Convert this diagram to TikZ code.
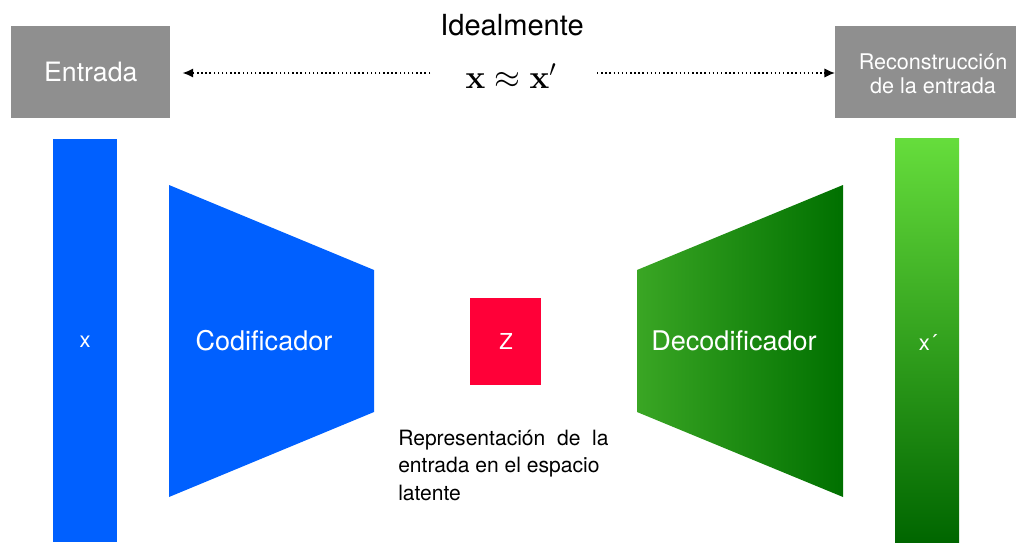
\documentclass[tikz,border=0pt]{standalone}
\usepackage[no-math]{fontspec}
\setmainfont{TeX Gyre Heros}
\usetikzlibrary{arrows.meta}
\definecolor{boxgray}{HTML}{8F8F8F}
\definecolor{encblue}{HTML}{0060FF}
\definecolor{zred}{HTML}{FF0038}
\definecolor{decL}{HTML}{3AA624}
\definecolor{decR}{HTML}{007000}
\definecolor{barTop}{HTML}{66DD3C}
\definecolor{barBot}{HTML}{006600}
\tikzset{
  graybox/.style={fill=boxgray, text=white, inner sep=0pt, anchor=north west},
  lbl/.style={text=white, font=\fontsize{20.3}{24}\selectfont},
  small/.style={text=white, font=\fontsize{16.5}{19}\selectfont},
  dotarrow/.style={dotted, line width=1.1pt, -{Latex[length=8pt,width=7pt]}},
}
\begin{document}
\begin{tikzpicture}[x=0.75pt,y=-0.75pt]
\useasboundingbox (0,0) rectangle (1016,542);
% top boxes
\node[graybox, minimum width=159*0.75pt, minimum height=92*0.75pt, font=\fontsize{20}{24}\selectfont] (in) at (11,26) {Entrada};
\node[graybox, minimum width=181*0.75pt, minimum height=92*0.75pt] (recbox) at (835,26) {};
\node[text=white, align=center, inner sep=0pt, font=\fontsize{16.2}{18}\selectfont] (rec) at (933,74) {Reconstrucción\\de la entrada};
\node[font=\fontsize{21.8}{26}\selectfont] (ideal) at (512,25) {Idealmente};
\node[font=\fontsize{26}{30}\selectfont] (form) at (511,76) {$\mathbf{x}\approx\mathbf{x}'$};
\coordinate (la) at (430,73);
\coordinate (ra) at (597,73);
\draw[dotarrow, shorten >=9pt] (la) -- (in.east |- la);
\draw[dotarrow] (ra) -- (recbox.west |- ra);
% input bar
\fill[encblue] (53,139) rectangle (117,542);
\node[small] (x) at (85,342) {x};
% encoder
\fill[encblue] (169,185) -- (374,270) -- (374,412) -- (169,497) -- cycle;
\node[lbl] (enc) at (264,341) {Codificador};
% latent
\fill[zred] (470,298) rectangle (541,385);
\node[small] (z) at (506,341) {Z};
\node[anchor=north west, align=left, inner sep=0pt, font=\fontsize{15.8}{20.5}\selectfont] (lat) at (398,430) {Representación\ \ de\ \ la\\entrada en el espacio\\latente};
% decoder
\shade[left color=decL, right color=decR] (637,270) -- (843,185) -- (843,497) -- (637,412) -- cycle;
\node[lbl] (dec) at (734,341) {Decodificador};
% output bar
\shade[top color=barTop, bottom color=barBot] (895,138) rectangle (959,542);
\node[small] (xp) at (928,342) {x´};
\end{tikzpicture}
\end{document}
